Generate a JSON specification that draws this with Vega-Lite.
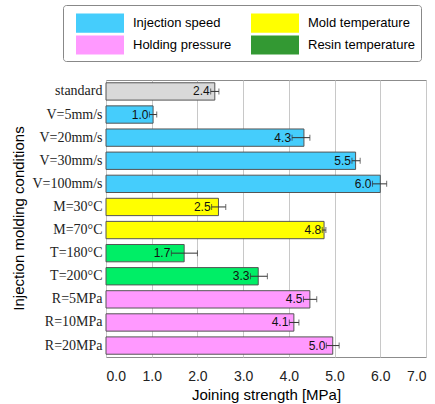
{
  "$schema": "https://vega.github.io/schema/vega-lite/v6.json",
  "autosize": {"type": "none"},
  "padding": {"left": 106, "top": 80, "right": 9, "bottom": 47},
  "width": 320,
  "height": 277,
  "config": {
    "view": {"stroke": "#8c8c8c", "strokeWidth": 1},
    "background": "white"
  },
  "data": {
    "values": [
      {"cond": "standard", "group": "standard", "value": 2.38, "lo": 2.29, "hi": 2.47},
      {"cond": "V=5mm/s", "group": "Injection speed", "value": 1.03, "lo": 0.95, "hi": 1.11},
      {"cond": "V=20mm/s", "group": "Injection speed", "value": 4.33, "lo": 4.07, "hi": 4.46},
      {"cond": "V=30mm/s", "group": "Injection speed", "value": 5.46, "lo": 5.38, "hi": 5.56},
      {"cond": "V=100mm/s", "group": "Injection speed", "value": 6.0, "lo": 5.83, "hi": 6.14},
      {"cond": "M=30°C", "group": "Mold temperature", "value": 2.46, "lo": 2.31, "hi": 2.62},
      {"cond": "M=70°C", "group": "Mold temperature", "value": 4.77, "lo": 4.73, "hi": 4.81},
      {"cond": "T=180°C", "group": "Resin temperature", "value": 1.71, "lo": 1.43, "hi": 2.0},
      {"cond": "T=200°C", "group": "Resin temperature", "value": 3.33, "lo": 3.16, "hi": 3.53},
      {"cond": "R=5MPa", "group": "Holding pressure", "value": 4.46, "lo": 4.32, "hi": 4.61},
      {"cond": "R=10MPa", "group": "Holding pressure", "value": 4.11, "lo": 4.01, "hi": 4.22},
      {"cond": "R=20MPa", "group": "Holding pressure", "value": 4.96, "lo": 4.82, "hi": 5.1}
    ]
  },
  "encoding": {
    "y": {
      "field": "cond",
      "type": "nominal",
      "sort": null,
      "scale": {"paddingInner": 0.25, "paddingOuter": 0.12},
      "axis": {
        "title": "Injection molding conditions",
        "titleFont": "Liberation Sans",
        "titleFontSize": 15,
        "titleFontWeight": "normal",
        "titleColor": "#000",
        "titleX": -88,
        "titleY": 138,
        "titleAngle": -90,
        "titleAlign": "center",
        "titleBaseline": "middle",
        "labelFont": "Liberation Serif",
        "labelFontSize": 14,
        "labelColor": "#222",
        "labelPadding": 4,
        "ticks": false,
        "domain": false,
        "grid": false
      }
    }
  },
  "layer": [
    {
      "mark": {"type": "bar", "stroke": "#555", "strokeWidth": 1},
      "encoding": {
        "x": {
          "field": "value",
          "type": "quantitative",
          "scale": {"domain": [0, 7], "nice": false},
          "axis": {
            "title": "Joining strength [MPa]",
            "titleFont": "Liberation Sans",
            "titleFontSize": 15,
            "titleFontWeight": "normal",
            "titleColor": "#000",
            "titlePadding": 4,
            "values": [0, 1, 2, 3, 4, 5, 6, 7],
            "format": ".1f",
            "labelFont": "Liberation Sans",
            "labelFontSize": 14,
            "labelColor": "#222",
            "labelPadding": 12,
            "ticks": false,
            "domain": false,
            "grid": true,
            "gridColor": "#c8c8c8",
            "gridWidth": 1
          }
        },
        "color": {
          "condition": {"test": "datum.group === 'Resin temperature'", "value": "#00ee66"},
          "field": "group",
          "type": "nominal",
          "scale": {
            "domain": ["standard", "Injection speed", "Mold temperature", "Resin temperature", "Holding pressure"],
            "range": ["#d9d9d9", "#45cdfc", "#ffff00", "#339933", "#ff99ff"]
          },
          "legend": {
            "title": null,
            "orient": "none",
            "legendX": -43,
            "legendY": -75,
            "direction": "horizontal",
            "columns": 2,
            "values": ["Injection speed", "Mold temperature", "Holding pressure", "Resin temperature"],
            "symbolType": "M-2,-0.8H2V0.8H-2Z",
            "symbolSize": 576,
            "symbolOffset": 19,
            "symbolStrokeWidth": 0,
            "labelFont": "Liberation Sans",
            "labelFontSize": 13,
            "labelColor": "#000",
            "labelOffset": 21,
            "rowPadding": 0,
            "columnPadding": 12,
            "padding": 6,
            "strokeColor": "#888",
            "cornerRadius": 3,
            "fillColor": "white"
          }
        }
      }
    },
    {
      "mark": {"type": "rule", "color": "#333", "strokeWidth": 1},
      "encoding": {
        "x": {"field": "lo", "type": "quantitative"},
        "x2": {"field": "hi"}
      }
    },
    {
      "mark": {"type": "tick", "color": "#333", "thickness": 1, "size": 6},
      "encoding": {"x": {"field": "lo", "type": "quantitative"}}
    },
    {
      "mark": {"type": "tick", "color": "#333", "thickness": 1, "size": 6},
      "encoding": {"x": {"field": "hi", "type": "quantitative"}}
    },
    {
      "mark": {"type": "text", "align": "right", "baseline": "middle", "dx": -1, "font": "Liberation Sans", "fontSize": 12, "color": "#111"},
      "encoding": {
        "x": {"field": "lo", "type": "quantitative"},
        "text": {"field": "value", "type": "quantitative", "format": ".1f"}
      }
    }
  ]
}
